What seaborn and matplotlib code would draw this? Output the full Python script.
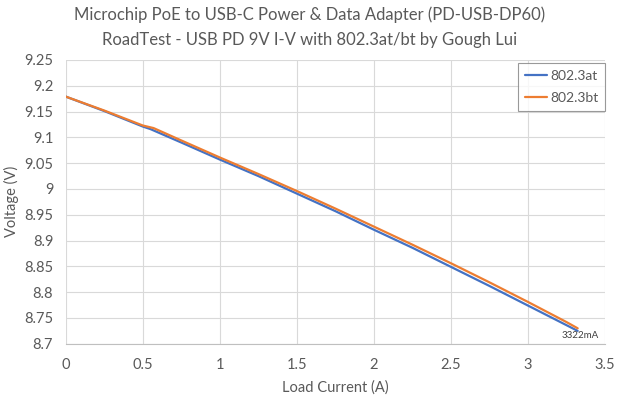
import pandas as pd
import numpy as np
import matplotlib.pyplot as plt
import seaborn as sns

# I-V readings (A, V)
at_current = [0, 0.25, 0.5, 0.55, 0.75, 1.0, 1.25, 1.5, 1.75, 2.0, 2.25, 2.5, 2.75, 3.0, 3.25, 3.322]
at_voltage = [9.179, 9.151, 9.121, 9.116, 9.090, 9.057, 9.025, 8.991, 8.957, 8.921, 8.886, 8.849, 8.812, 8.774, 8.736, 8.725]
bt_current = [0, 0.25, 0.5, 0.57, 0.75, 1.0, 1.25, 1.5, 1.75, 2.0, 2.25, 2.5, 2.75, 3.0, 3.25, 3.322]
bt_voltage = [9.179, 9.152, 9.123, 9.118, 9.094, 9.061, 9.029, 8.996, 8.962, 8.927, 8.892, 8.856, 8.819, 8.781, 8.742, 8.730]

x_ticks = [0, 0.5, 1, 1.5, 2, 2.5, 3, 3.5]
y_ticks = [8.7, 8.75, 8.8, 8.85, 8.9, 8.95, 9, 9.05, 9.1, 9.15, 9.2, 9.25]

df = pd.concat([
    pd.DataFrame({'current': at_current, 'voltage': at_voltage, 'series': '802.3at'}),
    pd.DataFrame({'current': bt_current, 'voltage': bt_voltage, 'series': '802.3bt'}),
])

sns.set_style("white")
plt.rcParams['font.family'] = ['Lato', 'DejaVu Sans']
grey = '#595959'

fig = plt.figure(figsize=(6.2, 3.97), dpi=100)
ax = fig.add_axes([0.106, 0.134, 0.87, 0.715])
sns.lineplot(data=df, x='current', y='voltage', hue='series', sort=False,
             palette=['#4472c4', '#ed7d31'], linewidth=1.6, ax=ax)

ax.set_xlim(0, 3.5)
ax.set_ylim(8.7, 9.25)
ax.set_xticks(x_ticks)
ax.set_xticklabels(['0', '0.5', '1', '1.5', '2', '2.5', '3', '3.5'])
ax.set_yticks(y_ticks)
ax.set_yticklabels(['8.7', '8.75', '8.8', '8.85', '8.9', '8.95', '9', '9.05', '9.1', '9.15', '9.2', '9.25'])
ax.grid(True, color='#d9d9d9', linewidth=0.8)
ax.set_axisbelow(True)
for s in ['top', 'right', 'left']:
    ax.spines[s].set_visible(False)
ax.spines['bottom'].set_color('#bfbfbf')
ax.tick_params(axis='both', length=0, labelsize=10.5, colors=grey)
ax.tick_params(axis='x', pad=10)
ax.tick_params(axis='y', pad=9)
ax.set_xlabel('Load Current (A)', fontsize=10.5, color=grey, labelpad=6)
ax.set_ylabel('Voltage (V)', fontsize=10.5, color=grey, labelpad=4)

ax.annotate('3322mA', xy=(at_current[-1], 8.7), xytext=(2, 3), textcoords='offset points',
            ha='center', va='bottom', fontsize=7, color='#404040')

leg = ax.legend(loc='upper right', fontsize=10, frameon=True, fancybox=False,
                borderpad=0.5, labelspacing=0.75, handlelength=1.6, handletextpad=0.2,
                borderaxespad=0, bbox_to_anchor=(1.0, 0.99))
leg.get_frame().set_edgecolor('#808080')
leg.get_frame().set_linewidth(0.8)
for t in leg.get_texts():
    t.set_color(grey)

fig.suptitle('Microchip PoE to USB-C Power & Data Adapter (PD-USB-DP60)\nRoadTest - USB PD 9V I-V with 802.3at/bt by Gough Lui',
             fontsize=12, color=grey, y=0.985, linespacing=1.75)

plt.savefig('out.png', dpi=100)
plt.close()
